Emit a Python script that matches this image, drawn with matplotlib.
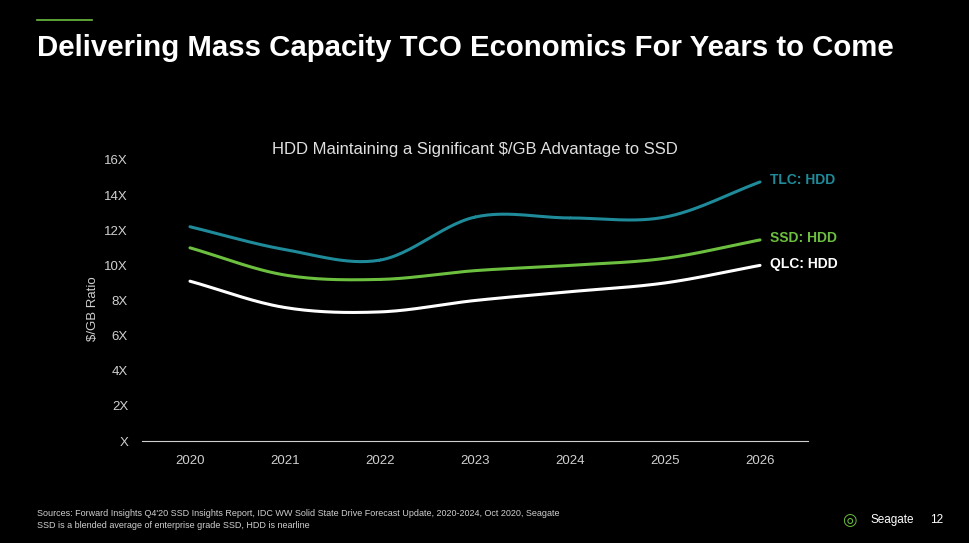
import numpy as np
import matplotlib
matplotlib.use('Agg')
import matplotlib.pyplot as plt

plt.rcParams['font.family'] = 'Liberation Sans'

years = [2020, 2021, 2022, 2023, 2024, 2025, 2026]
tlc_hdd = [12.2, 10.9, 10.3, 12.75, 12.7, 12.75, 14.75]
ssd_hdd = [11.0, 9.45, 9.2, 9.7, 10.0, 10.4, 11.45]
qlc_hdd = [9.1, 7.6, 7.35, 8.0, 8.5, 9.0, 10.0]
y_ticks = [0, 2, 4, 6, 8, 10, 12, 14, 16]
y_labels = ['X', '2X', '4X', '6X', '8X', '10X', '12X', '14X', '16X']

def smooth(x, y, n=30):
    # catmull-rom through the data points, just for drawing
    x = np.asarray(x, float); y = np.asarray(y, float)
    px = np.concatenate([[2*x[0]-x[1]], x, [2*x[-1]-x[-2]]])
    py = np.concatenate([[2*y[0]-y[1]], y, [2*y[-1]-y[-2]]])
    xs, ys = [], []
    for i in range(1, len(px)-2):
        t = np.linspace(0, 1, n)
        for P, out in ((px, xs), (py, ys)):
            p0, p1, p2, p3 = P[i-1], P[i], P[i+1], P[i+2]
            out.extend(0.5*((2*p1) + (-p0+p2)*t + (2*p0-5*p1+4*p2-p3)*t**2 + (-p0+3*p1-3*p2+p3)*t**3))
    return xs, ys

fig = plt.figure(figsize=(9.7, 5.43), dpi=100, facecolor='black')
ax = fig.add_axes([142/970, 1-441/543, 666/970, 281/543])
ax.set_facecolor('black')

series = [(tlc_hdd, '#1f8a99', 'TLC: HDD'), (ssd_hdd, '#6cbf3f', 'SSD: HDD'), (qlc_hdd, 'white', 'QLC: HDD')]
for vals, col, lab in series:
    xs, ys = smooth(years, vals)
    ax.plot(xs, ys, color=col, lw=2.2, solid_capstyle='round')
    ax.text(years[-1] + 0.1, vals[-1] + 0.1, lab, color=col, fontsize=10, fontweight='bold', va='center')

ax.set_xlim(2019.495, 2026.505)
ax.set_ylim(0, 16)
ax.set_xticks(years)
ax.set_yticks(y_ticks)
ax.set_yticklabels(y_labels)
ax.tick_params(colors='#d0d0d0', labelsize=9.5, length=0, pad=10)
for s in ['top', 'right', 'left']:
    ax.spines[s].set_visible(False)
ax.spines['bottom'].set_color('#d0d0d0')
ax.set_ylabel('$/GB Ratio', color='#d0d0d0', fontsize=9.5, labelpad=0)
ax.yaxis.set_label_coords(-0.065, 0.47)
ax.set_title('HDD Maintaining a Significant $/GB Advantage to SSD', color='#e0e0e0', fontsize=12, pad=4)

fig.add_artist(plt.Line2D([37/970, 92/970], [1-20/543]*2, color='#6cbf3f', lw=1.2))
fig.text(37/970, 1-48/543, 'Delivering Mass Capacity TCO Economics For Years to Come',
         color='white', fontsize=21.2, fontweight='bold', va='center')
fig.text(37/970, 1-514/543, 'Sources: Forward Insights Q4\'20 SSD Insights Report, IDC WW Solid State Drive Forecast Update, 2020-2024, Oct 2020, Seagate',
         color='#d0d0d0', fontsize=6.5, va='center')
fig.text(37/970, 1-526/543, 'SSD is a blended average of enterprise grade SSD, HDD is nearline',
         color='#d0d0d0', fontsize=6.5, va='center')
fig.text(871/970, 1-520/543, 'Seagate', color='white', fontsize=8.5, va='center')
fig.text(930/970, 1-520/543, '12', color='white', fontsize=8.5, va='center')
fig.text(842/970, 1-520/543, '\u25CE', color='#6cbf3f', fontsize=12, va='center', family='DejaVu Sans')

fig.savefig('out.png', dpi=100, facecolor='black')
